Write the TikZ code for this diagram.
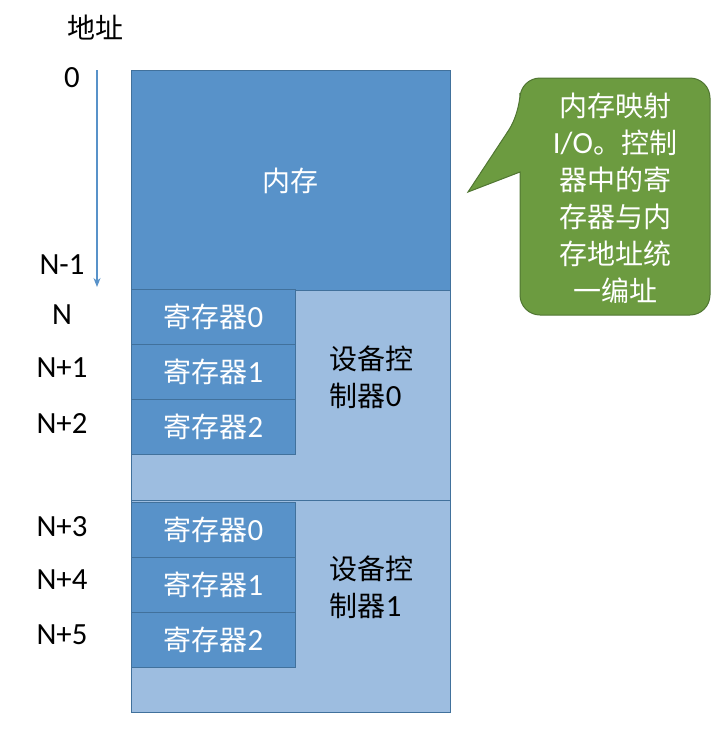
\documentclass[tikz,border=0pt]{standalone}
\usepackage{fontspec}
\setmainfont{Carlito}[Scale=1.1]
\newfontfamily\cjk{Noto Sans CJK SC}
\usetikzlibrary{arrows.meta}
\definecolor{memblue}{RGB}{88,146,201}
\definecolor{ctlblue}{RGB}{157,189,224}
\definecolor{edgeblue}{RGB}{65,113,156}
\definecolor{bubblegreen}{RGB}{108,155,64}
\definecolor{bubbleedge}{RGB}{80,118,50}
\tikzset{
  big/.style={font=\fontsize{28}{37}\selectfont},
  block/.style={draw=edgeblue, line width=0.8pt, anchor=north west, inner sep=0pt, minimum width=319pt},
  regbox/.style={block, fill=memblue, minimum width=164pt, minimum height=55pt, text=white, big},
  addr/.style={big, text=black}
}
\begin{document}
\begin{tikzpicture}[x=1pt,y=-1pt]
    \useasboundingbox (0,0) rectangle (720,732);

    % Mémoire et contrôleurs
    \node[block, fill=memblue, minimum height=220pt] (mem) at (131,70) {};
    \node[big, text=white] (memtxt) at (mem.center) {\cjk 内存};
    \node[block, fill=ctlblue, minimum height=210pt] (ctl0) at (131,290) {};
    \node[block, fill=ctlblue, minimum height=212pt] (ctl1) at (131,500) {};

    % Registres
    \foreach \i in {0,1,2} {
        \node[regbox] (r0\i) at (131,289+\i*55) {{\cjk 寄存器}\i};
        \node[regbox] (r1\i) at (131,502+\i*55) {{\cjk 寄存器}\i};
    }
    \node[big, align=left, anchor=west] (ctl0txt) at (326,377) {{\cjk 设备控}\\{\cjk 制器}0};
    \node[big, align=left, anchor=west] (ctl1txt) at (326,587) {{\cjk 设备控}\\{\cjk 制器}1};

    % Adresses
    \node[addr] (addrtitle) at (95,28) {\cjk 地址};
    \node[addr] (a0) at (72,78) {0};
    \node[addr] (an1) at (62,265) {N-1};
    \foreach \lab/\y in {N/315, N+1/368, N+2/423, N+3/527, N+4/580, N+5/635} {
        \node[addr] (a\y) at (62,\y) {\lab};
    }
    \coordinate (arrtop) at (97,70);
    \coordinate (arrbot) at (97,287);
    \draw[-{Stealth[length=9pt,width=7pt]}, memblue, line width=1.1pt] (arrtop) -- (arrbot);

    % Bulle
    \draw[fill=bubblegreen, draw=bubbleedge, line width=1pt] (520,240) [rounded corners=20pt] -- (520,315) -- (710,315) -- (710,78) -- (520,78) -- (520,113) [sharp corners] -- (468,192) -- (520,172) -- cycle;
    \node[big, text=white, align=center] (note) at (615,198) {{\cjk 内存映射}\\I/O{\cjk 。控制}\\{\cjk 器中的寄}\\{\cjk 存器与内}\\{\cjk 存地址统}\\{\cjk 一编址}};
\end{tikzpicture}
\end{document}
